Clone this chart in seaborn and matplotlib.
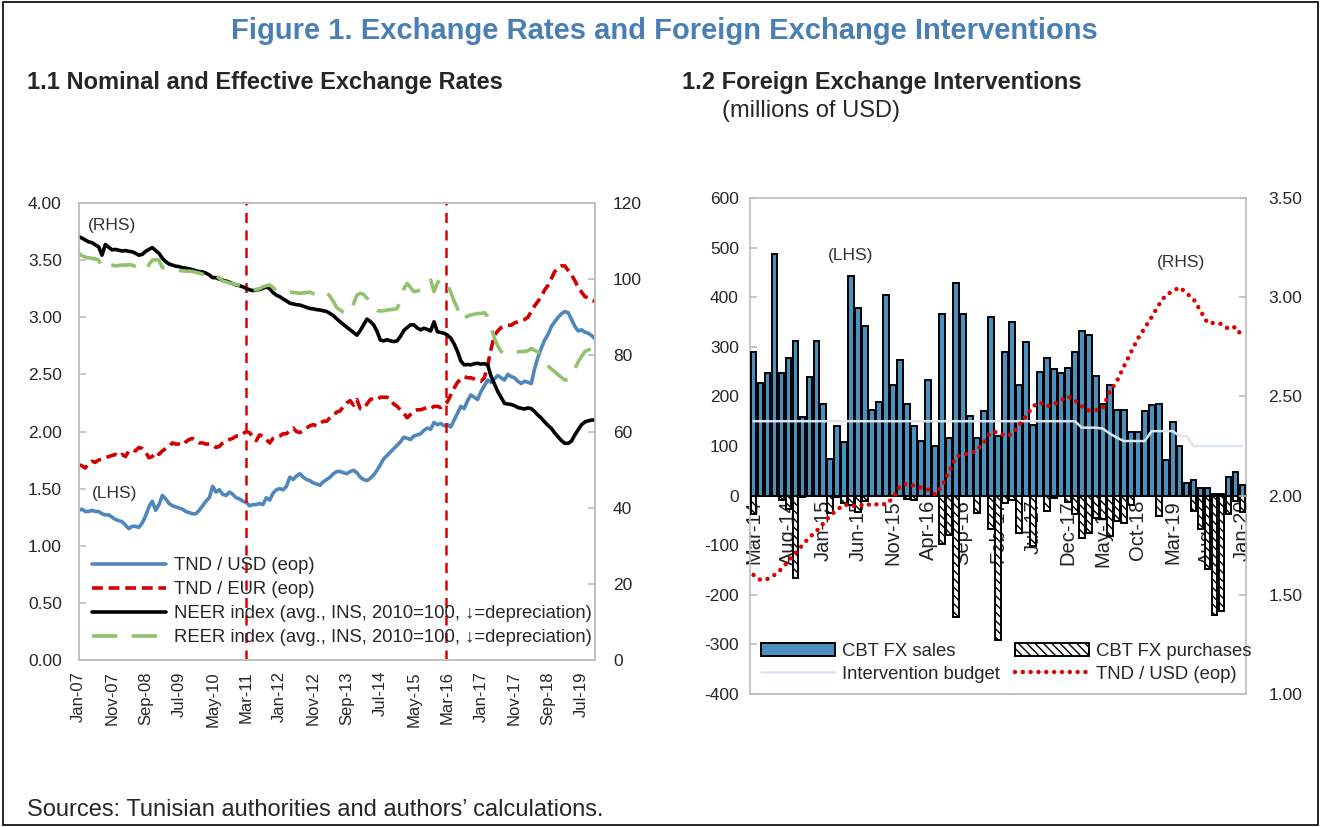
import numpy as np
import pandas as pd
import matplotlib
matplotlib.use("Agg")
import matplotlib.pyplot as plt
import seaborn as sns
from matplotlib.patches import Patch, Rectangle
from matplotlib.lines import Line2D

# ---- data: panel 1.1 (monthly, Jan-07 .. Nov-19) ----
months_left = pd.date_range("2007-01-01", periods=155, freq="MS")
labels_left = list(months_left.strftime("%b-%y"))

tnd_usd = [
    1.31, 1.32, 1.30, 1.30, 1.31, 1.30, 1.30, 1.28, 1.27, 1.27, 1.25, 1.23,
    1.22, 1.21, 1.18, 1.15, 1.17, 1.17, 1.16, 1.20, 1.26, 1.34, 1.39, 1.31,
    1.36, 1.44, 1.41, 1.37, 1.35, 1.34, 1.33, 1.32, 1.30, 1.29, 1.28, 1.28,
    1.31, 1.35, 1.39, 1.42, 1.52, 1.47, 1.49, 1.45, 1.44, 1.47, 1.45, 1.42,
    1.41, 1.39, 1.38, 1.35, 1.36, 1.36, 1.37, 1.36, 1.42, 1.40, 1.46, 1.49,
    1.50, 1.49, 1.52, 1.60, 1.58, 1.61, 1.63, 1.60, 1.58, 1.57, 1.55, 1.54,
    1.53, 1.56, 1.58, 1.60, 1.63, 1.65, 1.65, 1.64, 1.63, 1.65, 1.66, 1.64,
    1.60, 1.58, 1.57, 1.59, 1.62, 1.66, 1.71, 1.76, 1.79, 1.82, 1.85, 1.88,
    1.91, 1.95, 1.94, 1.93, 1.96, 1.97, 1.98, 2.01, 2.03, 2.02, 2.08, 2.06,
    2.07, 2.05, 2.06, 2.04, 2.10, 2.16, 2.22, 2.20, 2.27, 2.32, 2.30, 2.28,
    2.35, 2.40, 2.45, 2.43, 2.46, 2.49, 2.47, 2.45, 2.50, 2.48, 2.47, 2.44,
    2.42, 2.44, 2.43, 2.42, 2.55, 2.65, 2.73, 2.80, 2.85, 2.92, 2.96, 3.00,
    3.03, 3.05, 3.04, 2.98, 2.92, 2.88, 2.89, 2.87, 2.86, 2.84, 2.81,
]
tnd_eur = [
    1.71, 1.70, 1.68, 1.72, 1.74, 1.73, 1.75, 1.76, 1.77, 1.78, 1.79, 1.80,
    1.78, 1.80, 1.78, 1.83, 1.84, 1.83, 1.86, 1.85, 1.82, 1.77, 1.78, 1.82,
    1.80, 1.83, 1.85, 1.87, 1.90, 1.89, 1.89, 1.88, 1.91, 1.93, 1.94, 1.92,
    1.90, 1.90, 1.89, 1.89, 1.88, 1.86, 1.87, 1.90, 1.92, 1.93, 1.94, 1.96,
    1.96, 1.98, 2.00, 1.99, 1.95, 1.92, 1.97, 1.96, 1.93, 1.90, 1.94, 1.95,
    1.96, 1.98, 1.98, 2.01, 2.03, 2.00, 1.99, 2.01, 2.03, 2.05, 2.06, 2.05,
    2.07, 2.09, 2.09, 2.12, 2.14, 2.17, 2.18, 2.22, 2.25, 2.27, 2.23, 2.28,
    2.20, 2.20, 2.24, 2.28, 2.29, 2.28, 2.30, 2.30, 2.30, 2.28, 2.24, 2.22,
    2.19, 2.16, 2.12, 2.15, 2.18, 2.19, 2.19, 2.20, 2.21, 2.20, 2.22, 2.22,
    2.21, 2.24, 2.26, 2.32, 2.38, 2.43, 2.46, 2.48, 2.47, 2.47, 2.46, 2.45,
    2.44, 2.47, 2.58, 2.72, 2.84, 2.88, 2.91, 2.92, 2.93, 2.93, 2.95, 2.96,
    2.97, 2.98, 3.00, 3.05, 3.10, 3.14, 3.18, 3.24, 3.28, 3.34, 3.40, 3.43,
    3.45, 3.45, 3.41, 3.37, 3.32, 3.26, 3.22, 3.18, 3.17, 3.15, 3.14,
]
neer = [
    111.2, 110.8, 110.3, 109.8, 109.6, 109.0, 108.5, 106.3, 109.1, 108.4, 107.7, 107.8,
    107.6, 107.4, 107.5, 107.3, 107.2, 106.8, 106.3, 106.5, 107.3, 107.8, 108.3, 107.5,
    106.8, 105.5, 104.6, 104.0, 103.7, 103.4, 103.3, 103.0, 102.9, 102.7, 102.5, 102.2,
    102.0, 101.9, 101.6, 101.1, 100.4, 100.4, 100.0, 99.7, 99.5, 99.2, 98.8, 98.5,
    98.3, 98.0, 97.6, 97.2, 97.0, 97.2, 97.3, 97.6, 98.0, 97.5, 96.5, 95.8,
    95.4, 94.8, 94.3, 93.7, 93.5, 93.3, 93.2, 92.9, 92.6, 92.3, 92.2, 92.0,
    91.9, 91.7, 91.5, 91.0, 90.4, 89.6, 88.8, 88.1, 87.4, 86.7, 86.0, 85.3,
    86.5, 88.0, 89.5, 88.9, 88.0, 86.3, 84.0, 83.8, 84.1, 83.8, 83.6, 83.8,
    85.0, 86.5, 87.3, 88.0, 88.0, 87.2, 86.7, 87.1, 86.8, 86.4, 88.8, 86.2,
    86.0, 85.8, 85.3, 84.5, 83.0, 81.0, 78.5, 77.5, 77.6, 77.5, 77.8, 77.9,
    77.7, 77.8, 77.5, 74.5, 72.5, 70.5, 69.0, 67.4, 67.2, 67.1, 66.8, 66.3,
    66.1, 65.9, 66.2, 66.0, 65.2, 64.3, 63.5, 62.5, 61.6, 60.8, 59.6, 58.6,
    57.6, 56.9, 56.9, 57.5, 59.1, 60.5, 61.8, 62.5, 62.8, 63.0, 63.0,
]
reer = [
    106.8, 106.2, 105.8, 105.6, 105.5, 105.3, 105.0, 103.3, 104.2, 103.9, 103.7, 103.5,
    103.6, 103.7, 103.7, 103.8, 103.7, 103.3, 102.8, 102.4, 102.4, 103.8, 105.0, 105.1,
    105.0, 103.0, 102.9, 102.7, 102.5, 102.4, 102.3, 102.2, 102.1, 102.1, 102.0, 101.8,
    101.6, 101.3, 101.1, 101.5, 101.2, 101.0, 100.2, 99.5, 99.3, 99.0, 98.8, 98.6,
    98.4, 98.0, 97.6, 97.2, 97.2, 97.3, 97.5, 98.0, 98.3, 98.5, 97.8, 96.9,
    96.7, 96.6, 96.5, 96.6, 96.5, 96.4, 96.3, 96.4, 96.5, 96.6, 96.2, 95.8,
    96.2, 96.6, 96.5, 95.5, 94.1, 92.5, 91.9, 91.3, 91.0, 91.3, 93.5, 95.8,
    96.3, 96.0, 95.0, 93.0, 92.3, 91.8, 91.6, 91.7, 91.9, 92.0, 92.1, 92.3,
    94.5, 97.5, 98.9, 97.8, 96.7, 96.9, 97.2, 97.8, 98.5, 99.8, 96.7, 99.0,
    100.2, 99.5, 98.6, 96.5, 94.2, 92.3, 89.3, 89.8, 90.3, 90.6, 90.8, 91.0,
    91.0, 91.2, 90.2, 87.5, 84.5, 82.5, 81.0, 80.5, 80.3, 80.5, 80.8, 80.9,
    81.0, 81.0, 81.2, 81.8, 81.3, 80.9, 79.8, 78.3, 77.2, 76.4, 75.7, 74.9,
    74.2, 73.5, 73.6, 74.8, 76.5, 78.3, 79.7, 81.0, 81.4, 81.8, 81.8,
]
crisis_months = [50, 109.6]  # the two red dashed verticals (Mar-11, early 2016)

# ---- data: panel 1.2 (monthly, Mar-14 .. Jan-20) ----
months_right = pd.date_range("2014-03-01", periods=71, freq="MS")
labels_right = list(months_right.strftime("%b-%y"))

fx_sales = [
    290, 228, 248, 487, 247, 277, 312, 158, 240, 312,
    185, 74, 140, 109, 442, 378, 342, 172, 189, 405,
    223, 274, 185, 140, 111, 234, 101, 366, 117, 428,
    366, 160, 116, 170, 361, 120, 290, 350, 222, 309,
    143, 250, 277, 255, 248, 258, 290, 331, 323, 242,
    185, 223, 173, 173, 128, 128, 170, 183, 185, 71,
    148, 99, 25, 31, 15, 15, 3, 4, 38, 47,
    22,
]
fx_purchases = [
    -38, 0, 0, 0, -8, -28, -166, -3, 0, 0,
    0, -35, -3, -15, -18, -34, -10, 0, 0, 0,
    0, 0, -7, -8, 0, 0, 0, -97, -79, -244,
    0, 0, -35, 0, -67, -291, -15, -8, -75, 0,
    -102, 0, -32, -5, 0, -12, -38, -85, -75, -45,
    -48, -82, -52, -55, -18, 0, 0, 0, -42, 0,
    0, 0, 0, -32, -68, -147, -240, -233, -38, -10,
    -34,
]
budget = [150] * 47 + [
    137, 137, 137, 135, 125, 117, 110, 110, 110, 110,
    130, 130, 130, 130, 120, 120, 100, 100, 100, 100,
    100, 100, 100, 100,
]
tnd_usd_eop = [
    1.60, 1.575, 1.58, 1.60, 1.63, 1.67, 1.71, 1.75, 1.79, 1.82,
    1.86, 1.90, 1.93, 1.955, 1.95, 1.945, 1.96, 1.95, 1.96, 1.955,
    1.99, 2.05, 2.06, 2.05, 2.04, 2.03, 2.005, 2.05, 2.12, 2.195,
    2.21, 2.21, 2.23, 2.27, 2.32, 2.32, 2.30, 2.31, 2.355, 2.40,
    2.45, 2.47, 2.45, 2.46, 2.48, 2.50, 2.48, 2.45, 2.43, 2.43,
    2.44, 2.525, 2.575, 2.65, 2.72, 2.79, 2.845, 2.90, 2.96, 3.01,
    3.03, 3.05, 3.02, 2.99, 2.93, 2.87, 2.87, 2.865, 2.84, 2.85,
    2.80,
]

# ---- style ----
sns.set_theme(style="white")
plt.rcParams["font.family"] = ["Liberation Sans", "DejaVu Sans"]
plt.rcParams["axes.unicode_minus"] = False

W, H = 1321, 827
BLUE = "#4f87bd"
RED = "#d00000"
GREEN = "#93c26e"
BAR = "#4a8fbe"
BUDGET = "#dce6f2"
FRAME = "#bfbfbf"
TITLE = "#4a7fb5"
TICK_FS = 12.5
LEG_FS = 13.3


def style_frame(ax):
    for s in ax.spines.values():
        s.set_color(FRAME)
        s.set_linewidth(1.2)


fig = plt.figure(figsize=(W / 100, H / 100), dpi=100)
fig.patch.set_facecolor("white")
fig.add_artist(Rectangle((0.002, 0.003), 0.996, 0.994, transform=fig.transFigure,
                         fill=False, edgecolor="black", linewidth=1.2))

fig.text(0.503, 1 - 31 / H, "Figure 1. Exchange Rates and Foreign Exchange Interventions",
         ha="center", va="center", fontsize=21, fontweight="bold", color=TITLE)
fig.text(27 / W, 1 - 83 / H, "1.1 Nominal and Effective Exchange Rates",
         ha="left", va="center", fontsize=17, fontweight="bold")
fig.text(682 / W, 1 - 83 / H, "1.2 Foreign Exchange Interventions",
         ha="left", va="center", fontsize=17, fontweight="bold")
fig.text(722 / W, 1 - 111 / H, "(millions of USD)", ha="left", va="center", fontsize=17)
fig.text(27 / W, 1 - 810 / H, "Sources: Tunisian authorities and authors\u2019 calculations.",
         ha="left", va="center", fontsize=17)

# ================= panel 1.1 =================
ax1 = fig.add_axes([78.5 / W, 1 - 660 / H, (595 - 78.5) / W, (660 - 203) / H])
ax1b = ax1.twinx()
xl = np.arange(len(tnd_usd))

sns.lineplot(x=xl, y=tnd_usd, ax=ax1, color=BLUE, linewidth=2.6)
sns.lineplot(x=xl, y=tnd_eur, ax=ax1, color=RED, linewidth=2.6, linestyle=(0, (3, 1.6)))
for m in crisis_months:
    ax1.axvline(m, color="#e00000", linewidth=1.8, linestyle=(0, (4, 3)))
sns.lineplot(x=xl, y=neer, ax=ax1b, color="black", linewidth=2.6)
sns.lineplot(x=xl, y=reer, ax=ax1b, color=GREEN, linewidth=2.6, linestyle=(0, (7, 4)))

ax1.set_xlim(0, len(tnd_usd) - 1)
ax1.set_ylim(0, 4)
ax1b.set_ylim(0, 120)
ax1.set_xticks(xl[::10])
ax1.set_xticklabels(labels_left[::10])
ax1.set_yticks(np.arange(0, 4.01, 0.5))
ax1.set_yticklabels([f"{v:.2f}" for v in np.arange(0, 4.01, 0.5)])
ax1b.set_yticks(range(0, 121, 20))
ax1.set_xlabel("")
ax1.set_ylabel("")
ax1b.set_ylabel("")
ax1.tick_params(axis="x", direction="in", length=5, color=FRAME, labelsize=12,
                labelrotation=90, pad=8)
ax1.tick_params(axis="y", direction="in", length=5, color=FRAME, labelsize=TICK_FS, pad=12)
ax1b.tick_params(axis="y", direction="in", length=5, color=FRAME, labelsize=TICK_FS, pad=13)
style_frame(ax1)
style_frame(ax1b)

ax1b.text(0.018, 0.94, "(RHS)", transform=ax1b.transAxes, fontsize=12.5, color="#333333")
ax1b.text(0.026, 0.355, "(LHS)", transform=ax1b.transAxes, fontsize=12.5, color="#333333")

left_handles = [
    Line2D([], [], color=BLUE, linewidth=2.6, label="TND / USD (eop)"),
    Line2D([], [], color=RED, linewidth=2.6, linestyle=(0, (3, 1.6)), label="TND / EUR (eop)"),
    Line2D([], [], color="black", linewidth=2.6,
           label="NEER index (avg., INS, 2010=100, \u2193=depreciation)"),
    Line2D([], [], color=GREEN, linewidth=2.6, linestyle=(0, (7, 4)),
           label="REER index (avg., INS, 2010=100, \u2193=depreciation)"),
]
ax1b.legend(handles=left_handles, loc="lower left", bbox_to_anchor=(0.0, 0.0),
            frameon=False, fontsize=LEG_FS, handlelength=4.0, handletextpad=0.4,
            labelspacing=0.38, borderaxespad=0.35)

# ================= panel 1.2 =================
ax2 = fig.add_axes([750 / W, 1 - 694 / H, (1246 - 750) / W, (694 - 198) / H])
xr = np.arange(len(fx_sales))

sns.barplot(x=xr, y=fx_sales, ax=ax2, color=BAR, saturation=1, errorbar=None,
            edgecolor="black", linewidth=1.4, width=0.82, zorder=3)
sns.barplot(x=xr, y=fx_purchases, ax=ax2, color="white", saturation=1, errorbar=None,
            edgecolor="black", linewidth=1.4, width=0.82, hatch="\\\\\\\\", zorder=3)
sns.lineplot(x=xr, y=budget, ax=ax2, color=BUDGET, linewidth=1.8, zorder=4)

# x axis runs along zero; labels sit under the bars like the Excel original
ax2.spines["bottom"].set_position(("data", 0))
ax2.spines["bottom"].set_color("#9a9a9a")
ax2.xaxis.set_zorder(1)
ax2.set_ylim(-400, 600)
ax2.set_xlim(-0.5, len(fx_sales) - 0.5)
ax2.set_yticks(range(-400, 601, 100))
ax2.set_xticks(xr[::5])
ax2.set_xticklabels(labels_right[::5])
ax2.set_xlabel("")
ax2.set_ylabel("")
ax2.tick_params(axis="x", direction="in", length=4, color="#9a9a9a", labelsize=14.5,
                labelcolor="#222222", labelrotation=90, pad=3)
ax2.tick_params(axis="y", direction="in", length=5, color=FRAME, labelsize=TICK_FS, pad=8)
for side in ("left", "right", "top"):
    ax2.spines[side].set_color(FRAME)
    ax2.spines[side].set_linewidth(1.2)
ax2.plot([0, 1], [0, 0], transform=ax2.transAxes, color=FRAME, linewidth=1.4, clip_on=False)

ax3 = ax2.twinx()
sns.lineplot(x=xr, y=tnd_usd_eop, ax=ax3, color="#e00000", linewidth=3.2,
             linestyle=(0, (0.01, 1.75)), dash_capstyle="round")
ax3.set_ylim(1.0, 3.5)
ax3.set_yticks(np.arange(1.0, 3.51, 0.5))
ax3.set_yticklabels([f"{v:.2f}" for v in np.arange(1.0, 3.51, 0.5)])
ax3.set_ylabel("")
ax3.tick_params(axis="y", direction="in", length=5, color=FRAME, labelsize=TICK_FS, pad=16)
for s in ax3.spines.values():
    s.set_visible(False)

ax3.text(0.157, 0.875, "(LHS)", transform=ax3.transAxes, fontsize=12.5, color="#333333")
ax3.text(0.82, 0.86, "(RHS)", transform=ax3.transAxes, fontsize=12.5, color="#333333")

right_handles = [
    Patch(facecolor=BAR, edgecolor="black", linewidth=1.4, label="CBT FX sales"),
    Line2D([], [], color=BUDGET, linewidth=1.8, label="Intervention budget"),
    Patch(facecolor="white", edgecolor="black", linewidth=1.4, hatch="\\\\\\\\",
          label="CBT FX purchases"),
    Line2D([], [], color="#e00000", linewidth=3.2, linestyle=(0, (0.01, 1.75)),
           dash_capstyle="round", label="TND / USD (eop)"),
]
ax3.legend(handles=right_handles, loc="lower left", bbox_to_anchor=(0.0, 0.0), ncol=2,
           frameon=False, fontsize=LEG_FS, handlelength=4.0, handletextpad=0.4,
           columnspacing=0.8, labelspacing=0.3, borderaxespad=0.2)

fig.savefig("out.png", dpi=100, facecolor="white")
